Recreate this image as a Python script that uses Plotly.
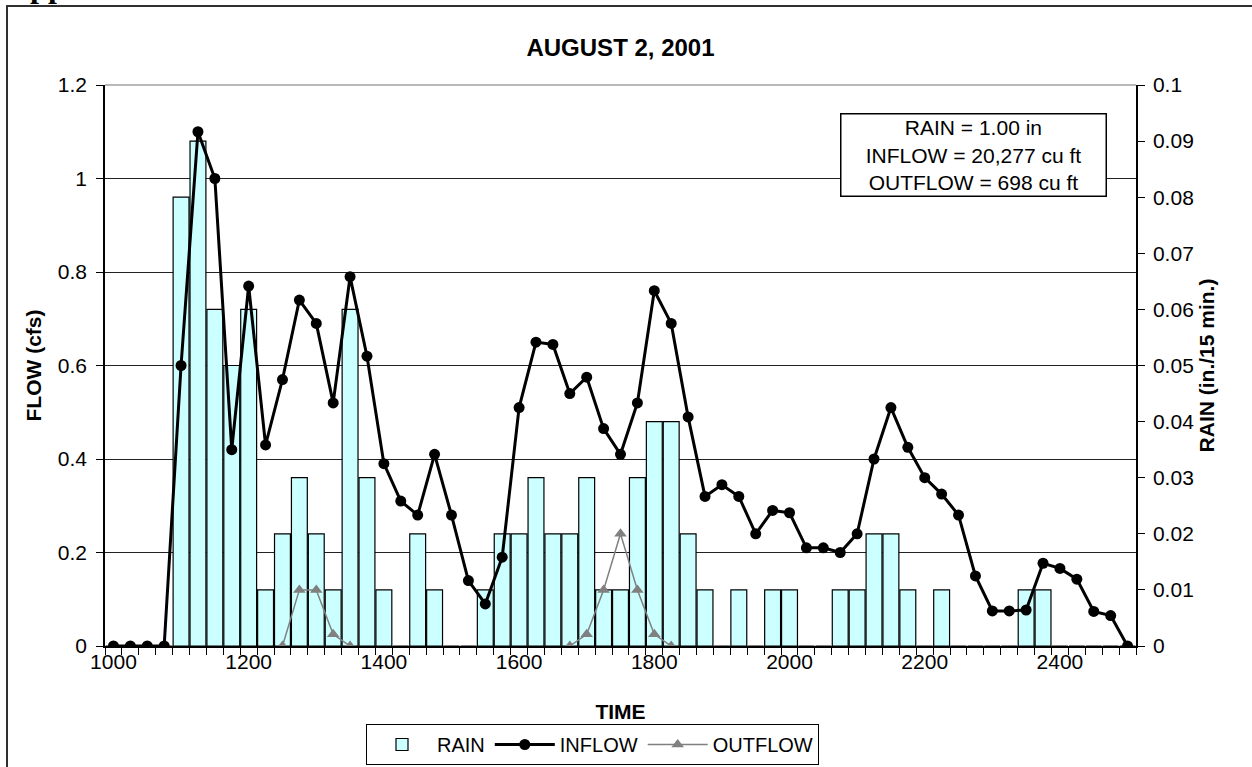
import plotly.graph_objects as go

# ---- data ----
times = ["1000", "1015", "1030", "1045", "1100", "1115", "1130", "1145",
         "1200", "1215", "1230", "1245", "1300", "1315", "1330", "1345",
         "1400", "1415", "1430", "1445", "1500", "1515", "1530", "1545",
         "1600", "1615", "1630", "1645", "1700", "1715", "1730", "1745",
         "1800", "1815", "1830", "1845", "1900", "1915", "1930", "1945",
         "2000", "2015", "2030", "2045", "2100", "2115", "2130", "2145",
         "2200", "2215", "2230", "2245", "2300", "2315", "2330", "2345",
         "2400", "2415", "2430", "2445", "2500"]

rain = [0, 0, 0, 0, 0.08, 0.09, 0.06, 0.05,
        0.06, 0.01, 0.02, 0.03, 0.02, 0.01, 0.06, 0.03,
        0.01, 0, 0.02, 0.01, 0, 0, 0.01, 0.02,
        0.02, 0.03, 0.02, 0.02, 0.03, 0.01, 0.01, 0.03,
        0.04, 0.04, 0.02, 0.01, 0, 0.01, 0, 0.01,
        0.01, 0, 0, 0.01, 0.01, 0.02, 0.02, 0.01,
        0, 0.01, 0, 0, 0, 0, 0.01, 0.01,
        0, 0, 0, 0, 0]

inflow = [0, 0, 0, 0, 0.60, 1.10, 1.00, 0.42,
          0.77, 0.43, 0.57, 0.74, 0.69, 0.52, 0.79, 0.62,
          0.39, 0.31, 0.28, 0.41, 0.28, 0.14, 0.09, 0.19,
          0.51, 0.65, 0.645, 0.54, 0.575, 0.465, 0.41, 0.52,
          0.76, 0.69, 0.49, 0.32, 0.345, 0.32, 0.24, 0.29,
          0.285, 0.21, 0.21, 0.20, 0.24, 0.40, 0.51, 0.425,
          0.36, 0.325, 0.28, 0.15, 0.075, 0.075, 0.077, 0.177,
          0.166, 0.143, 0.074, 0.065, 0]

outflow = [None] * 10 + [0, 0.12, 0.12, 0.025, 0] + [None] * 12 + \
          [0, 0.025, 0.12, 0.24, 0.12, 0.025, 0] + [None] * 27

tick_labels = ["1000", "1200", "1400", "1600", "1800", "2000", "2200", "2400"]
summary_lines = ["RAIN = 1.00 in", "INFLOW = 20,277 cu ft", "OUTFLOW = 698 cu ft"]

# ---- figure ----
xpos = list(range(len(times)))
tickvals = [times.index(t) for t in tick_labels]
FONT = "Liberation Sans, Arial, sans-serif"

W, H = 1252, 767
ML, MR, MT, MB = 105, 116, 85, 121
PW, PH = W - ML - MR, H - MT - MB


def px_x(p):
    return (p - ML) / PW


def px_y(p):
    return (H - MB - p) / PH


fig = go.Figure()
fig.add_trace(go.Bar(
    x=xpos, y=rain, name="RAIN", yaxis="y",
    marker=dict(color="#CCFFFF", line=dict(color="black", width=1.2)),
))
fig.add_trace(go.Scatter(
    x=xpos, y=inflow, name="INFLOW", yaxis="y2", mode="lines+markers",
    line=dict(color="black", width=3),
    marker=dict(size=11, color="black"),
))
fig.add_trace(go.Scatter(
    x=xpos, y=outflow, name="OUTFLOW", yaxis="y2", mode="lines+markers",
    line=dict(color="#808080", width=1.5),
    marker=dict(symbol="triangle-up", size=11, color="#808080"),
    connectgaps=False,
))

fig.update_layout(
    width=W, height=H,
    margin=dict(l=ML, r=MR, t=MT, b=MB, autoexpand=False),
    paper_bgcolor="white", plot_bgcolor="white",
    font=dict(family=FONT, size=21, color="black"),
    bargap=0.06,
    title=dict(text="<b>AUGUST 2, 2001</b>", x=0.5, xref="paper",
               y=1 - 48 / H, yanchor="middle", yref="container",
               font=dict(size=24, family=FONT, color="black")),
    xaxis=dict(
        range=[-0.5, len(times) - 0.5],
        tickmode="array", tickvals=tickvals, ticktext=tick_labels,
        ticks="", showgrid=False, zeroline=False,
        showline=True, linecolor="black", linewidth=1.5,
        tickfont=dict(size=21), ticklabelstandoff=-4,
        minor=dict(ticks="outside", ticklen=7, tickcolor="black",
                   tickwidth=1, tick0=-0.5, dtick=1, showgrid=False),
        title=dict(text="<b>TIME</b>", standoff=32, font=dict(size=21)),
    ),
    yaxis=dict(
        side="right", range=[0, 0.1], dtick=0.01, tick0=0,
        showgrid=False, zeroline=False,
        ticks="outside", ticklen=7, tickcolor="black",
        showline=True, linecolor="black", linewidth=1.5,
        tickfont=dict(size=21), ticklabelstandoff=4,
        title=dict(text="<b>RAIN (in./15 min.)</b>", standoff=6,
                   font=dict(size=21)),
    ),
    yaxis2=dict(
        overlaying="y", side="left", range=[0, 1.2], dtick=0.2, tick0=0,
        showgrid=True, gridcolor="#222222", gridwidth=1, zeroline=False,
        ticks="outside", ticklen=7, tickcolor="black",
        showline=True, linecolor="black", linewidth=1.5,
        tickfont=dict(size=21), ticklabelstandoff=5,
        title=dict(text="<b>FLOW (cfs)</b>", standoff=10,
                   font=dict(size=21)),
    ),
    legend=dict(
        orientation="h", x=px_x(592.5), xanchor="center",
        y=px_y(724), yanchor="top",
        bordercolor="black", borderwidth=1, bgcolor="white",
        font=dict(size=20), itemwidth=60, traceorder="normal",
    ),
    showlegend=True,
)

fig.add_annotation(
    xref="paper", yref="paper", x=px_x(973.7), y=px_y(155.4),
    xanchor="center", yanchor="middle",
    text="<br>".join(summary_lines), showarrow=False, align="center",
    font=dict(size=21, family=FONT, color="black"),
    bgcolor="white", bordercolor="black", borderwidth=1.5, borderpad=1,
    width=262, height=79,
)

# clipped page heading above the frame
fig.add_annotation(
    xref="paper", yref="paper", x=px_x(6), y=px_y(5),
    xanchor="left", yanchor="bottom", text="<b>Appendix</b>",
    showarrow=False, borderpad=0,
    font=dict(size=32, family="Liberation Serif, Times New Roman, serif",
              color="black"),
)

# plot-area top border and outer page frame
fig.add_shape(type="line", xref="paper", yref="paper", x0=0, x1=1, y0=1, y1=1,
              line=dict(color="#A0A0A0", width=1.5))
fig.add_shape(type="rect", xref="paper", yref="paper",
              x0=px_x(7), x1=px_x(1300), y0=px_y(800), y1=px_y(6),
              line=dict(color="#303030", width=2), fillcolor="rgba(0,0,0,0)")

fig.write_html(
    "out.html",
    config={"displayModeBar": False},
    post_script="document.body.style.margin='0';document.body.style.overflow='hidden';",
)
